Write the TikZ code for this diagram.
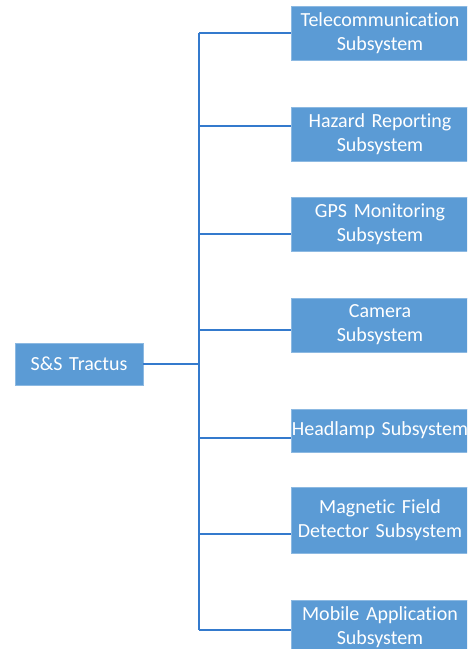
\documentclass[tikz,border=0pt]{standalone}
\usepackage{fontspec}
\setmainfont{Carlito}[Ligatures=NoCommon]
\definecolor{boxblue}{RGB}{91,155,213}
\definecolor{lineblue}{RGB}{52,122,205}
\begin{document}
\begin{tikzpicture}[x=1pt,y=-1pt,
  sub/.style={fill=boxblue, draw=boxblue!70!white, line width=0.6pt, text=white, align=center,
    minimum width=178pt, text width=178pt, inner sep=0pt,
    font=\fontsize{20}{24}\selectfont},
  rootbox/.style={sub, minimum width=128pt, text width=128pt, minimum height=42pt},
  conn/.style={draw=lineblue, line width=1.6pt}]
\useasboundingbox (0,0) rectangle (467,649);
\clip (0,0) rectangle (467,649);
\node[rootbox] (root) at (79,364) {S\&S Tractus};
\node[sub, minimum height=54pt] (tele) at (380,33) {Telecommunication\\Subsystem};
\node[sub, minimum height=54pt] (haz) at (380,134) {Hazard Reporting\\Subsystem};
\node[sub, minimum height=54pt] (gps) at (380,224) {GPS Monitoring\\Subsystem};
\node[sub, minimum height=54pt] (cam) at (380,325) {Camera\\Subsystem};
\node[sub, minimum height=43pt] (head) at (380,430.5) {Headlamp Subsystem};
\node[sub, minimum height=66pt] (mag) at (380,520) {Magnetic Field\\Detector Subsystem};
\node[sub, minimum height=54pt] (mob) at (380,627) {Mobile Application\\Subsystem};
\coordinate (j1) at (199,33);
\coordinate (j2) at (199,126);
\coordinate (j3) at (199,234);
\coordinate (j4) at (199,330);
\coordinate (jr) at (199,364);
\coordinate (j5) at (199,438);
\coordinate (j6) at (199,534);
\coordinate (j7) at (199,630);
\draw[conn] (j1) -- (j7);
\draw[conn] (root.east) -- (jr);
\draw[conn] (j1) -- (j1 -| tele.west);
\draw[conn] (j2) -- (j2 -| haz.west);
\draw[conn] (j3) -- (j3 -| gps.west);
\draw[conn] (j4) -- (j4 -| cam.west);
\draw[conn] (j5) -- (j5 -| head.west);
\draw[conn] (j6) -- (j6 -| mag.west);
\draw[conn] (j7) -- (j7 -| mob.west);
\end{tikzpicture}
\end{document}
